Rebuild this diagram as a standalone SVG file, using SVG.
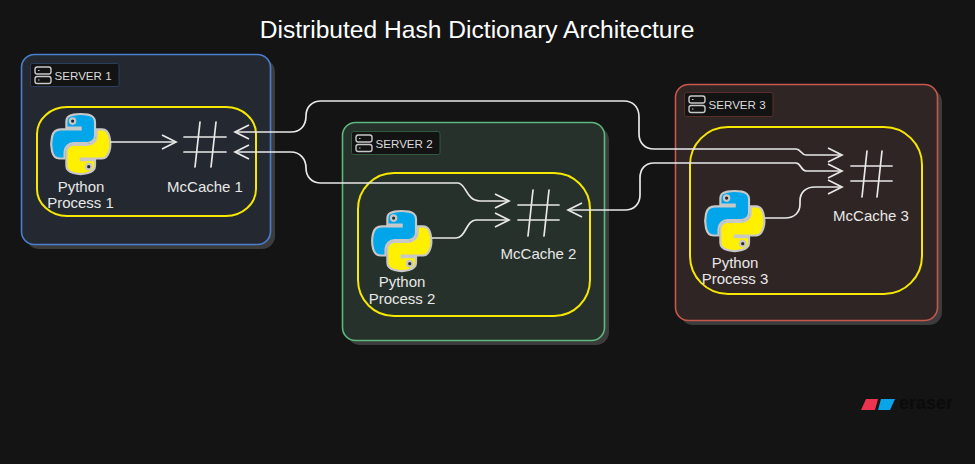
<svg xmlns="http://www.w3.org/2000/svg" width="975" height="464" viewBox="0 0 975 464">
<style>
.t{font-family:"Liberation Sans",Arial,sans-serif;fill:#e8e8e8;font-size:15px;text-anchor:middle}
.title{font-family:"Liberation Sans",Arial,sans-serif;fill:#fff;font-size:24.600px;text-anchor:middle}
.sl{font-family:"Liberation Sans",Arial,sans-serif;fill:#dcdcdc;font-size:11.600px}
.shadow{fill:#3c3c3c}
.group{fill:none;stroke:#f6e800;stroke-width:2}
.hash{fill:none;stroke:#e8e8e8;stroke-width:1.7;stroke-linecap:round}
.srv{fill:none;stroke:#c8c8c8;stroke-width:1.4}
.lb{fill:#131313;stroke-width:1}
.c{fill:none;stroke:#e8e8e8;stroke-width:1.7;marker-end:url(#arrow)}
.both{marker-start:url(#arrow)}
.pb{fill:#00a6e9;stroke:#c8c8c8;stroke-width:4}
.py{fill:#fff000;stroke:#c8c8c8;stroke-width:4}
</style>
<defs>
<marker id="arrow" markerUnits="userSpaceOnUse" markerWidth="18" markerHeight="18" refX="15" refY="8" orient="auto-start-reverse" viewBox="0 0 18 18">
<path d="M1,1 L15,8 L1,15" fill="none" stroke="#e8e8e8" stroke-width="1.7"/>
</marker>
<g id="python">
<path class="pb" d="M54.9 0C50.3 0 46 .4 42.1 1.1 30.8 3.1 28.7 7.3 28.7 15V25.3H55.5V28.7H18.6C10.8 28.7 4 33.4 1.9 42.3-.6 52.5-.7 58.9 1.9 69.5 3.8 77.5 8.3 83.1 16.1 83.1H25.3V70.9C25.3 62 33 54.2 42.1 54.2H68.9C76.3 54.2 82.3 48.1 82.3 40.6V15C82.3 7.8 76.2 2.3 68.9 1.1 64.3.3 59.5 0 54.9 0ZM40.4 8.2C43.2 8.2 45.4 10.5 45.4 13.3 45.4 16.2 43.2 18.4 40.4 18.4 37.6 18.4 35.4 16.2 35.4 13.3 35.4 10.5 37.6 8.2 40.4 8.2Z"/>
<path class="py" d="M85.6 28.7V40.6C85.6 49.8 77.8 57.6 68.9 57.6H42.1C34.8 57.6 28.7 63.8 28.7 71.2V96.7C28.7 104 35 108.3 42.1 110.4 50.6 112.9 58.7 113.3 68.9 110.4 75.6 108.4 82.3 104.5 82.3 96.7V86.5H55.5V83.1H95.7C103.5 83.1 106.4 77.7 109.1 69.5 111.9 61.1 111.8 53 109.1 42.3 107.2 34.5 103.5 28.7 95.7 28.7ZM70.6 93.3C73.4 93.3 75.6 95.6 75.6 98.4 75.6 101.2 73.4 103.5 70.6 103.5 67.8 103.5 65.5 101.2 65.5 98.4 65.5 95.6 67.8 93.3 70.6 93.3Z"/>
</g>
<g id="srvicon">
<rect class="srv" x="0" y="0" width="16" height="7" rx="2.200"/>
<rect class="srv" x="0" y="9.500" width="16" height="7" rx="2.200"/>
<path d="M3 3.500h1.500M3 13h1.500" stroke="#c8c8c8" stroke-width="1"/>
</g>
</defs>
<rect width="975" height="464" fill="#141414"/>
<text class="title" x="477" y="38">Distributed Hash Dictionary Architecture</text>

<g id="server-1">
<rect class="shadow" x="26" y="59" width="249" height="190" rx="13"/>
<rect x="21.500" y="54.500" width="249" height="190" rx="13" fill="#242830" stroke="#4a7fd0" stroke-width="1.600"/>
<rect class="lb" x="30.500" y="63.500" width="88.500" height="23" rx="2" stroke="#2a3f60"/>
<use href="#srvicon" x="35" y="67"/>
<text class="sl" x="54.500" y="80">SERVER 1</text>
<rect class="group" x="37" y="107" width="219" height="109" rx="30" ry="27"/>
</g>
<g id="python-1">
<use href="#python" transform="translate(51 114) scale(.535)"/>
<text class="t" x="81" y="192">Python</text>
<text class="t" x="80.500" y="208">Process 1</text>
</g>
<g id="mccache-1">
<path class="hash" d="M184 137H226M184 152H226M200 122L195 167M216 122L211 167"/>
<text class="t" x="205" y="192">McCache 1</text>
</g>

<g id="server-2">
<rect class="shadow" x="347" y="127" width="262" height="218" rx="13"/>
<rect x="342.500" y="122.500" width="262" height="218" rx="13" fill="#27312b" stroke="#5cb87c" stroke-width="1.600"/>
<rect class="lb" x="351.500" y="131.500" width="88.500" height="23" rx="2" stroke="#2f5a3e"/>
<use href="#srvicon" x="356" y="135"/>
<text class="sl" x="375.500" y="148">SERVER 2</text>
<rect class="group" x="358" y="173" width="232" height="143" rx="36"/>
</g>
<g id="python-2">
<use href="#python" transform="translate(372 211) scale(.535)"/>
<text class="t" x="402" y="287">Python</text>
<text class="t" x="402" y="304">Process 2</text>
</g>
<g id="mccache-2">
<path class="hash" d="M518 205H559M518 220H559M533 190L528 236M549 190L544 236"/>
<text class="t" x="538.500" y="259">McCache 2</text>
</g>

<g id="server-3">
<rect class="shadow" x="680" y="89" width="262" height="236" rx="13"/>
<rect x="675.500" y="84.500" width="262" height="236" rx="13" fill="#2f2525" stroke="#c8574c" stroke-width="1.600"/>
<rect class="lb" x="684.500" y="92.500" width="88.500" height="24" rx="2" stroke="#5a2e2a"/>
<use href="#srvicon" x="689" y="96"/>
<text class="sl" x="708.500" y="109">SERVER 3</text>
<rect class="group" x="690" y="127" width="232" height="167" rx="38"/>
</g>
<g id="python-3">
<use href="#python" transform="translate(705 191) scale(.535)"/>
<text class="t" x="735" y="268">Python</text>
<text class="t" x="735" y="284">Process 3</text>
</g>
<g id="mccache-3">
<path class="hash" d="M851 166H892M851 181H892M867 151L862 197M882 151L877 197"/>
<text class="t" x="871" y="221">McCache 3</text>
</g>

<g id="connectors">
<path class="c" d="M110 142H176"/>
<path class="c both" d="M235 132H291C300 132 306 126 306 116C306 107 312 101 321 101H624C633 101 639 107 639 117V134C639 143 645 149 654 149H796C801 149 801 155 806 155H842"/>
<path class="c both" d="M235 152H291C300 152 306 159 306 168C306 177 312 183 321 183H458C466 183 466 201 480 201H509"/>
<path class="c" d="M432 238H456C466 238 466 220 476 220H509"/>
<path class="c both" d="M568 210H625C634 210 640 204 640 195V178C640 169 645 163 654 163H796C801 163 801 171 806 171H842"/>
<path class="c" d="M765 218H785C795 218 800 212 800 204V201C800 192 806 187 815 187H842"/>
</g>

<g id="eraser-logo">
<path d="M861 410L866 399H878L875 410Z" fill="#ee3350"/>
<path d="M878 410L881 399H895L890 410Z" fill="#0aa5e8"/>
<text x="899" y="409" font-family="'Liberation Sans',Arial,sans-serif" font-weight="700" font-size="18" fill="#0b0b0b">eraser</text>
</g>
</svg>
